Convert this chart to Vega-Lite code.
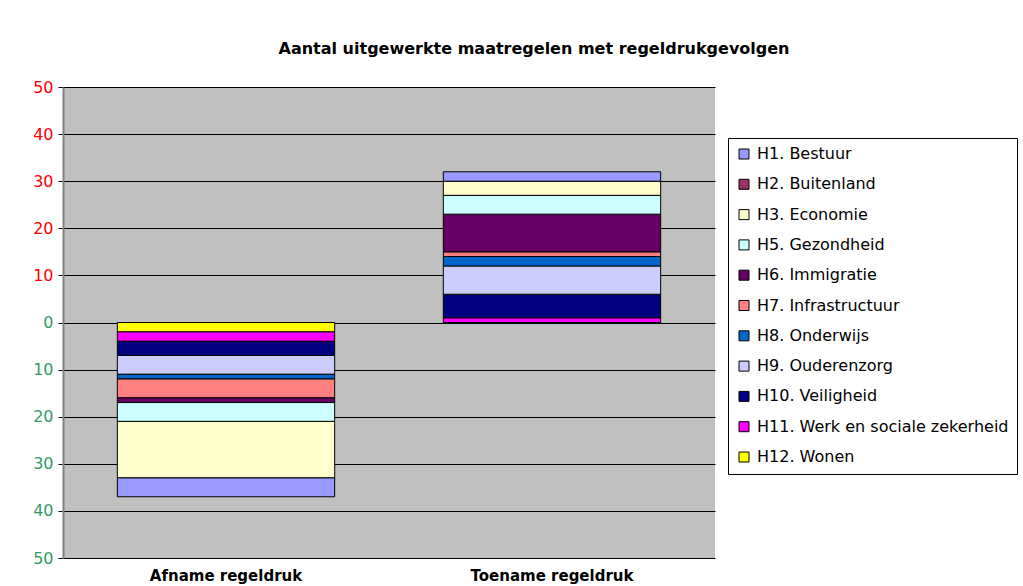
{
  "$schema": "https://vega.github.io/schema/vega-lite/v6.json",
  "autosize": "none",
  "width": 652,
  "height": 471,
  "padding": {"left": 63, "top": 87, "right": 308, "bottom": 28},
  "background": "white",
  "title": {
    "text": "Aantal uitgewerkte maatregelen met regeldrukgevolgen",
    "font": "DejaVu Sans",
    "fontSize": 16,
    "fontWeight": "bold",
    "color": "black",
    "anchor": "middle",
    "frame": "group",
    "dx": 145,
    "offset": 22
  },
  "data": {
    "values": [
      {"groep": "Afname regeldruk", "hoofdstuk": "H12. Wonen", "idx": 12, "aantal": -2},
      {"groep": "Afname regeldruk", "hoofdstuk": "H11. Werk en sociale zekerheid", "idx": 11, "aantal": -2},
      {"groep": "Afname regeldruk", "hoofdstuk": "H10. Veiligheid", "idx": 10, "aantal": -3},
      {"groep": "Afname regeldruk", "hoofdstuk": "H9. Ouderenzorg", "idx": 9, "aantal": -4},
      {"groep": "Afname regeldruk", "hoofdstuk": "H8. Onderwijs", "idx": 8, "aantal": -1},
      {"groep": "Afname regeldruk", "hoofdstuk": "H7. Infrastructuur", "idx": 7, "aantal": -4},
      {"groep": "Afname regeldruk", "hoofdstuk": "H6. Immigratie", "idx": 6, "aantal": -1},
      {"groep": "Afname regeldruk", "hoofdstuk": "H5. Gezondheid", "idx": 5, "aantal": -4},
      {"groep": "Afname regeldruk", "hoofdstuk": "H3. Economie", "idx": 3, "aantal": -12},
      {"groep": "Afname regeldruk", "hoofdstuk": "H1. Bestuur", "idx": 1, "aantal": -4},
      {"groep": "Toename regeldruk", "hoofdstuk": "H11. Werk en sociale zekerheid", "idx": 11, "aantal": 1},
      {"groep": "Toename regeldruk", "hoofdstuk": "H10. Veiligheid", "idx": 10, "aantal": 5},
      {"groep": "Toename regeldruk", "hoofdstuk": "H9. Ouderenzorg", "idx": 9, "aantal": 6},
      {"groep": "Toename regeldruk", "hoofdstuk": "H8. Onderwijs", "idx": 8, "aantal": 2},
      {"groep": "Toename regeldruk", "hoofdstuk": "H7. Infrastructuur", "idx": 7, "aantal": 1},
      {"groep": "Toename regeldruk", "hoofdstuk": "H6. Immigratie", "idx": 6, "aantal": 8},
      {"groep": "Toename regeldruk", "hoofdstuk": "H5. Gezondheid", "idx": 5, "aantal": 4},
      {"groep": "Toename regeldruk", "hoofdstuk": "H3. Economie", "idx": 3, "aantal": 3},
      {"groep": "Toename regeldruk", "hoofdstuk": "H1. Bestuur", "idx": 1, "aantal": 2}
    ]
  },
  "mark": {"type": "bar", "stroke": "black", "strokeWidth": 1},
  "encoding": {
    "x": {
      "field": "groep",
      "type": "nominal",
      "sort": ["Afname regeldruk", "Toename regeldruk"],
      "scale": {"paddingInner": 0.3333, "paddingOuter": 0.16667},
      "axis": {
        "title": null,
        "labelAngle": 0,
        "labelFont": "DejaVu Sans",
        "labelFontSize": 15,
        "labelFontWeight": "bold",
        "labelColor": "black",
        "ticks": false,
        "domain": false,
        "labelPadding": 10
      }
    },
    "y": {
      "field": "aantal",
      "type": "quantitative",
      "stack": "zero",
      "scale": {"domain": [-50, 50], "nice": false, "zero": true},
      "axis": {
        "title": null,
        "values": [-50, -40, -30, -20, -10, 0, 10, 20, 30, 40, 50],
        "labelExpr": "abs(datum.value)",
        "labelColor": {"expr": "datum.value > 0 ? '#ff0000' : '#339966'"},
        "labelFont": "DejaVu Sans",
        "labelFontSize": 16,
        "labelPadding": 5,
        "tickSize": 5,
        "tickColor": "black",
        "domainColor": "#808080",
        "domainWidth": 2,
        "grid": true,
        "gridColor": "black",
        "gridWidth": 1,
        "gridOpacity": 1
      }
    },
    "color": {
      "field": "hoofdstuk",
      "type": "nominal",
      "scale": {
        "domain": ["H1. Bestuur", "H2. Buitenland", "H3. Economie", "H5. Gezondheid", "H6. Immigratie", "H7. Infrastructuur", "H8. Onderwijs", "H9. Ouderenzorg", "H10. Veiligheid", "H11. Werk en sociale zekerheid", "H12. Wonen"],
        "range": ["#9999FF", "#993366", "#FFFFCC", "#CCFFFF", "#660066", "#FF8080", "#0066CC", "#CCCCFF", "#000080", "#FF00FF", "#FFFF00"]
      },
      "legend": {
        "title": null,
        "orient": "none",
        "legendX": 665,
        "legendY": 51,
        "padding": 8,
        "strokeColor": "black",
        "fillColor": "white",
        "symbolType": "square",
        "symbolSize": 100,
        "symbolStrokeColor": "black",
        "symbolStrokeWidth": 1,
        "symbolOpacity": 1,
        "labelFont": "DejaVu Sans",
        "labelFontSize": 16,
        "labelColor": "black",
        "labelOffset": 5,
        "rowPadding": 14.3,
        "labelLimit": 300
      }
    },
    "order": {"field": "idx", "type": "quantitative", "sort": "descending"}
  },
  "config": {
    "view": {"fill": "#C0C0C0", "stroke": null}
  }
}
